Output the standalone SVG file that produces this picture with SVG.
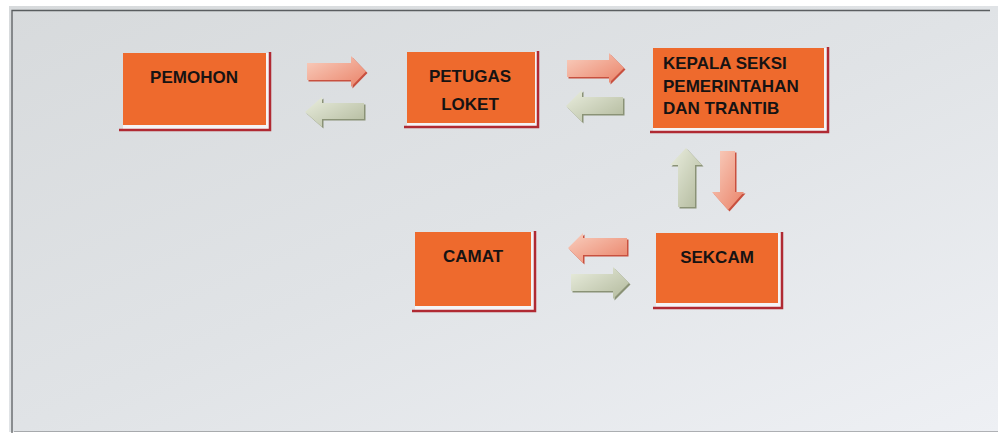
<svg xmlns="http://www.w3.org/2000/svg" width="998" height="433" viewBox="0 0 998 433">
<defs>
<linearGradient id="bg" x1="0" y1="0" x2="1" y2="1">
<stop offset="0" stop-color="#d7dadc"/>
<stop offset="0.5" stop-color="#e0e3e6"/>
<stop offset="1" stop-color="#eef0f4"/>
</linearGradient>
<linearGradient id="gPink" x1="0" y1="0" x2="1" y2="1">
<stop offset="0" stop-color="#f9d0c0"/>
<stop offset="1" stop-color="#ea8268"/>
</linearGradient>
<linearGradient id="gGreen" x1="0" y1="0" x2="1" y2="1">
<stop offset="0" stop-color="#eaeedf"/>
<stop offset="1" stop-color="#b2b99c"/>
</linearGradient>
<style>
.box{fill:#ee6a2d}
.band{fill:#f4f4f6}
.edge{fill:none;stroke:#b02a33;stroke-width:2.5}
.lbl{font-family:"Liberation Sans",Arial,sans-serif;font-weight:bold;font-size:17px;fill:#161313}
.mid{text-anchor:middle}
.pink{fill:url(#gPink)}
.pinkS{fill:#c8503f}
.green{fill:url(#gGreen)}
.greenS{fill:#8a9276}
</style>
</defs>
<rect x="0" y="0" width="998" height="433" fill="#ffffff"/>
<rect x="9" y="6" width="989" height="426" fill="url(#bg)"/>
<path d="M12 433 V10.5 H990" fill="none" stroke="#3a3d40" stroke-width="1.3" opacity="0.8"/>
<path d="M14 431.5 H998" fill="none" stroke="#3a3d40" stroke-width="1.2" opacity="0.35"/>

<g id="connectors">
<g transform="translate(1.5,1.5)">
<polygon class="pinkS" points="307,63 351,63 351,56 366,71.5 351,87 351,80 307,80"/>
<polygon class="greenS" points="364,103 322,103 322,97 305,112 322,127 322,119 364,119"/>
<polygon class="pinkS" points="567,60 609,60 609,53 624,68 609,83 609,77 567,77"/>
<polygon class="greenS" points="623,97 582,97 582,90 566,106 582,122 582,114 623,114"/>
<polygon class="greenS" points="678,207 678,165 670,165 686,148 702,165 695,165 695,207"/>
<polygon class="pinkS" points="720,151 735,151 735,192 744,192 728,210 712,192 720,192"/>
<polygon class="pinkS" points="627,238 583,238 583,233 568,248 583,263 583,255 627,255"/>
<polygon class="greenS" points="571,274 613,274 613,267 629,283 613,299 613,291 571,291"/>
</g>
<polygon class="pink" points="307,63 351,63 351,56 366,71.5 351,87 351,80 307,80"/>
<polygon class="green" points="364,103 322,103 322,97 305,112 322,127 322,119 364,119"/>
<polygon class="pink" points="567,60 609,60 609,53 624,68 609,83 609,77 567,77"/>
<polygon class="green" points="623,97 582,97 582,90 566,106 582,122 582,114 623,114"/>
<polygon class="green" points="678,207 678,165 670,165 686,148 702,165 695,165 695,207"/>
<polygon class="pink" points="720,151 735,151 735,192 744,192 728,210 712,192 720,192"/>
<polygon class="pink" points="627,238 583,238 583,233 568,248 583,263 583,255 627,255"/>
<polygon class="green" points="571,274 613,274 613,267 629,283 613,299 613,291 571,291"/>
</g>

<g id="pemohon">
<rect class="band" x="123" y="53" width="147" height="77"/>
<path class="edge" d="M119 130 H270 V52"/>
<rect class="box" x="123" y="53" width="143" height="72"/>
<text class="lbl mid" x="194" y="83">PEMOHON</text>
</g>

<g id="petugas-loket">
<rect class="band" x="407" y="52" width="131" height="75"/>
<path class="edge" d="M404 127 H538 V51"/>
<rect class="box" x="407" y="52" width="128" height="71"/>
<text class="lbl mid" x="470" y="82">PETUGAS</text>
<text class="lbl mid" x="470" y="110">LOKET</text>
</g>

<g id="kepala-seksi">
<rect class="band" x="653" y="48" width="175" height="84"/>
<path class="edge" d="M650 132 H828 V47"/>
<rect class="box" x="653" y="48" width="171" height="80"/>
<text class="lbl" x="663" y="69">KEPALA SEKSI</text>
<text class="lbl" x="663" y="92">PEMERINTAHAN</text>
<text class="lbl" x="663" y="114">DAN TRANTIB</text>
</g>

<g id="camat">
<rect class="band" x="415" y="232" width="120" height="79"/>
<path class="edge" d="M412 311 H535 V231"/>
<rect class="box" x="415" y="232" width="116" height="74"/>
<text class="lbl mid" x="473" y="262">CAMAT</text>
</g>

<g id="sekcam">
<rect class="band" x="656" y="233" width="126" height="75"/>
<path class="edge" d="M653 308 H782 V232"/>
<rect class="box" x="656" y="233" width="122" height="70"/>
<text class="lbl mid" x="717" y="263">SEKCAM</text>
</g>
</svg>
